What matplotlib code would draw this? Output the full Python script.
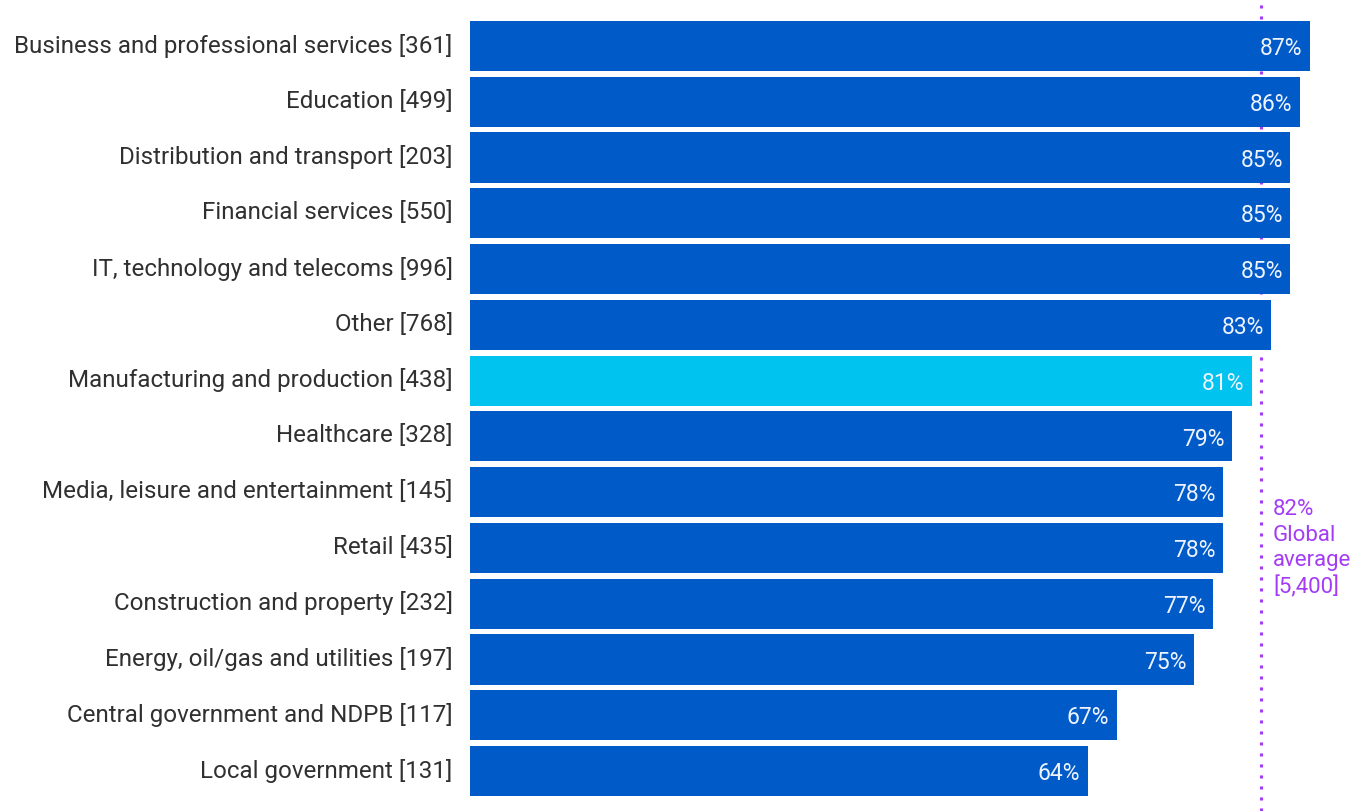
import matplotlib.pyplot as plt
from matplotlib.transforms import ScaledTranslation

sectors = [
    "Business and professional services [361]",
    "Education [499]",
    "Distribution and transport [203]",
    "Financial services [550]",
    "IT, technology and telecoms [996]",
    "Other [768]",
    "Manufacturing and production [438]",
    "Healthcare [328]",
    "Media, leisure and entertainment [145]",
    "Retail [435]",
    "Construction and property [232]",
    "Energy, oil/gas and utilities [197]",
    "Central government and NDPB [117]",
    "Local government [131]",
]
shares = [87, 86, 85, 85, 85, 83, 81, 79, 78, 78, 77, 75, 67, 64]
highlight = "Manufacturing and production [438]"
global_avg = 82
global_n = "5,400"

BLUE = "#005bc8"
CYAN = "#00c3f0"
PURPLE = "#a43cf5"

plt.rcParams["font.family"] = ["Roboto", "DejaVu Sans"]

fig = plt.figure(figsize=(13.6, 8.12), dpi=100)
ax = fig.add_axes([470 / 1360, 0, 890 / 1360, 1])

ypos = list(range(len(sectors)))
colors = [CYAN if s == highlight else BLUE for s in sectors]
ax.barh(ypos, shares, height=0.9, color=colors, zorder=2)

for y, v in zip(ypos, shares):
    ax.text(v - 0.75, y + 0.03, f"{v}%", ha="right", va="center", fontsize=16.5,
            color="#eef3ff", zorder=3)

# global average marker sits behind the bars
ax.axvline(global_avg, color=PURPLE, linestyle=(0, (1, 2.6)), linewidth=2.2, zorder=1)
ax.text(global_avg + 1.2, 8.1, f"{global_avg}%\nGlobal\naverage\n[{global_n}]",
        ha="left", va="top", fontsize=16, color=PURPLE, linespacing=1.3,
        clip_on=False)

ax.set_xlim(0, 890 / 9.65)
ax.set_ylim(13.717, -0.843)
ax.set_yticks(ypos)
ax.set_yticklabels(sectors, fontsize=17.4, color="#303030")
ax.tick_params(axis="y", length=0, pad=12.5)
# category names sit a touch above the bar centres
lift = ScaledTranslation(0, 0.04, fig.dpi_scale_trans)
for lbl in ax.get_yticklabels():
    lbl.set_transform(lbl.get_transform() + lift)
ax.set_xticks([])
for side in ax.spines.values():
    side.set_visible(False)

fig.savefig("out.png", dpi=100)
